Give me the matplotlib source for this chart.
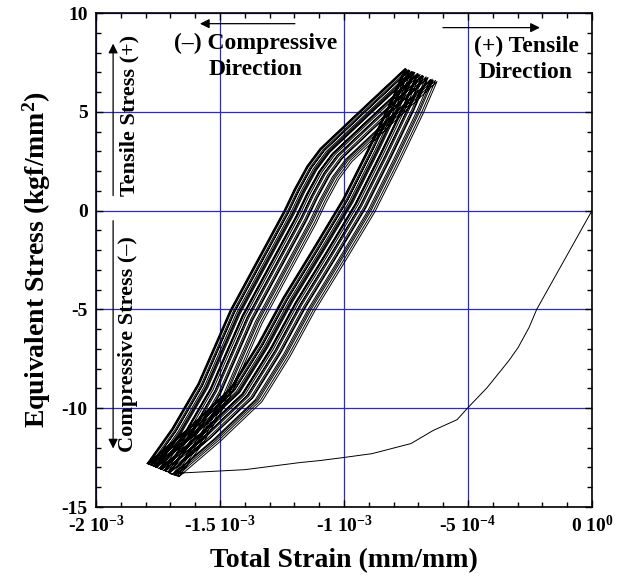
import matplotlib
matplotlib.use('Agg')
import matplotlib.pyplot as plt
from matplotlib.ticker import MultipleLocator

plt.rcParams['font.family'] = 'Liberation Serif'
plt.rcParams['font.weight'] = 'bold'
plt.rcParams['mathtext.fontset'] = 'custom'
plt.rcParams['mathtext.rm'] = 'Liberation Serif:bold'
plt.rcParams['mathtext.it'] = 'Liberation Serif:bold'
plt.rcParams['mathtext.bf'] = 'Liberation Serif:bold'

# initial loading path (strain, stress)
init_strain = [0.0, -2.23e-4, -2.54e-4, -2.98e-4, -3.35e-4, -4.23e-4, -5.00e-4, -5.44e-4,
               -6.41e-4, -7.30e-4, -8.87e-4, -1.004e-3, -1.097e-3, -1.177e-3, -1.399e-3, -1.702e-3]
init_stress = [0.0, -5.00, -5.92, -6.93, -7.59, -8.96, -9.97, -10.58,
               -11.13, -11.79, -12.30, -12.50, -12.65, -12.75, -13.11, -13.31]

# stabilised hysteresis loop (last cycle), compressive tip -> tensile tip -> back
loop_strain = [-1.794e-3, -1.694e-3, -1.589e-3, -1.460e-3, -1.242e-3, -1.200e-3, -1.150e-3,
               -1.097e-3, -0.927e-3, -0.754e-3, -0.810e-3, -0.903e-3, -1.004e-3, -1.125e-3,
               -1.246e-3, -1.347e-3, -1.460e-3, -1.629e-3, -1.794e-3]
loop_stress = [-12.80, -11.03, -8.76, -5.06, 0.0, 1.10, 2.25,
               3.14, 5.16, 7.19, 5.57, 3.14, 0.61, -1.92,
               -4.40, -6.73, -9.01, -11.03, -12.80]

# drift of each cycle relative to the last one (first cycle first)
cycle_dstrain = [1.29e-4, 1.23e-4, 1.14e-4, 1.10e-4, 1.03e-4, 0.93e-4, 0.89e-4, 0.85e-4,
                 0.75e-4, 0.71e-4, 0.68e-4, 0.61e-4, 0.54e-4, 0.52e-4, 0.49e-4, 0.40e-4,
                 0.35e-4, 0.32e-4, 0.26e-4, 0.19e-4, 0.17e-4, 0.13e-4, 0.06e-4, 0.03e-4, 0.0]
cycle_dstress = [-0.66, -0.60, -0.59, -0.54, -0.55, -0.46, -0.47, -0.42,
                 -0.39, -0.35, -0.36, -0.30, -0.29, -0.25, -0.26, -0.19,
                 -0.19, -0.15, -0.14, -0.09, -0.10, -0.06, -0.04, -0.01, 0.0]

xticks = [-2e-3, -1.5e-3, -1e-3, -5e-4, 0.0]
xticklabels = ['-2 10$^{-3}$', '-1.5 10$^{-3}$', '-1 10$^{-3}$', '-5 10$^{-4}$', '0 10$^{0}$']
yticks = [-15, -10, -5, 0, 5, 10]
yticklabels = ['-15', '-10', '-5', '0', '5', '10']

strain = list(init_strain)
stress = list(init_stress)
for dx, dy in zip(cycle_dstrain, cycle_dstress):
    strain += [s + dx for s in loop_strain]
    stress += [s + dy for s in loop_stress]

fig = plt.figure(figsize=(6.22, 5.79), dpi=100)
ax = fig.add_axes([96 / 622, 1 - 507 / 579, 496 / 622, 494 / 579])

ax.plot(strain, stress, color='black', lw=0.7, zorder=3)

ax.set_xlim(-2e-3, 0)
ax.set_ylim(-15, 10)
ax.set_xticks(xticks)
ax.set_xticklabels(xticklabels, fontsize=14, fontweight='bold')
ax.set_yticks(yticks)
ax.set_yticklabels(yticklabels, fontsize=14, fontweight='bold')
ax.xaxis.set_minor_locator(MultipleLocator(1e-4))
ax.yaxis.set_minor_locator(MultipleLocator(1))
ax.tick_params(which='both', direction='in', top=True, right=True, width=1.0)
ax.tick_params(which='major', length=5, pad=6)
ax.tick_params(which='minor', length=3.5)
ax.set_axisbelow(True)
ax.grid(True, which='major', color='#2a2ad0', lw=0.9)
for sp in ax.spines.values():
    sp.set_linewidth(1.2)

ax.set_xlabel('Total Strain (mm/mm)', fontsize=20, fontweight='bold', labelpad=8)
ax.set_ylabel('Equivalent Stress (kgf/mm$^2$)', fontsize=20, fontweight='bold', labelpad=6)

arrow = dict(arrowstyle='-|>', color='black', lw=0.9, mutation_scale=14, shrinkA=0, shrinkB=0)
ax.annotate('', xy=(-1.581e-3, 9.46), xytext=(-1.198e-3, 9.46), arrowprops=arrow)
ax.text(-1.355e-3, 7.82, '(\u2013) Compressive\nDirection', fontsize=17, fontweight='bold',
        ha='center', va='center', linespacing=1.3)
ax.annotate('', xy=(-2.10e-4, 9.26), xytext=(-6.01e-4, 9.26), arrowprops=arrow)
ax.text(-2.66e-4, 7.64, '(+) Tensile\nDirection', fontsize=17, fontweight='bold',
        ha='center', va='center', linespacing=1.3)

ax.annotate('', xy=(-1.931e-3, 8.45), xytext=(-1.931e-3, 0.76), arrowprops=arrow)
ax.text(-1.863e-3, 4.81, 'Tensile Stress (+)', fontsize=16, fontweight='bold',
        rotation=90, ha='center', va='center')
ax.annotate('', xy=(-1.931e-3, -12.04), xytext=(-1.931e-3, -0.51), arrowprops=arrow)
ax.text(-1.871e-3, -6.73, 'Compressive Stress (\u2013)', fontsize=16, fontweight='bold',
        rotation=90, ha='center', va='center')

fig.savefig('out.png', dpi=100)
